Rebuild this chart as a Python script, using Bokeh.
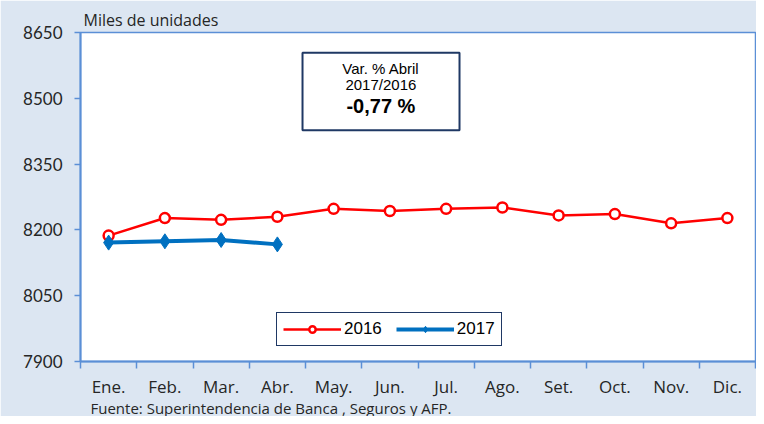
from bokeh.plotting import figure
from bokeh.models import (ColumnDataSource, FixedTicker, Range1d, Legend, LegendItem,
                          Label, BoxAnnotation, Title)
from bokeh.embed import file_html
from bokeh.resources import INLINE

months = ["Ene.", "Feb.", "Mar.", "Abr.", "May.", "Jun.", "Jul.", "Ago.", "Set.", "Oct.", "Nov.", "Dic."]
v2016 = [8187, 8227, 8223, 8230, 8248, 8243, 8248, 8251, 8233, 8236, 8215, 8227]
v2017 = [8171, 8174, 8177, 8167]
y_ticks = [7900, 8050, 8200, 8350, 8500, 8650]

idx16 = list(range(1, len(v2016) + 1))
idx17 = list(range(1, len(v2017) + 1))
s16 = ColumnDataSource(dict(x=idx16, y=v2016))
s17 = ColumnDataSource(dict(x=idx17, y=v2017))

BG = "#DCE6F2"
AX = "#5B8FD6"
FONT = "Lato"
FONT2 = "Open Sans"
TXT = "#262626"

p = figure(width=756, height=416, output_backend="svg", toolbar_location=None,
           x_range=Range1d(0.5, len(months) + 0.5), y_range=Range1d(y_ticks[0], y_ticks[-1]),
           min_border_left=80, min_border_right=1, min_border_top=32, min_border_bottom=55)
p.background_fill_color = "white"
p.border_fill_color = BG
p.outline_line_color = AX
p.outline_line_width = 1.5
p.xgrid.visible = False
p.ygrid.visible = False

# unit label above the frame
p.add_layout(Title(text="Miles de unidades", align="left", offset=3, standoff=4,
                   text_font=FONT2, text_font_size="16px", text_font_style="normal",
                   text_color=TXT), "above")

# y axis
p.yaxis.ticker = FixedTicker(ticks=y_ticks)
p.yaxis.axis_line_color = AX
p.yaxis.axis_line_width = 2
p.yaxis.major_tick_line_color = AX
p.yaxis.major_tick_line_width = 1.5
p.yaxis.major_tick_out = 6
p.yaxis.major_tick_in = 0
p.yaxis.minor_tick_line_color = None
p.yaxis.major_label_text_font = FONT
p.yaxis.major_label_text_font_size = "17px"
p.yaxis.major_label_text_color = TXT
p.yaxis.major_label_standoff = 12

# x axis: labels at centres, ticks at boundaries
p.xaxis.ticker = FixedTicker(ticks=idx16, minor_ticks=[i + 0.5 for i in range(0, len(months) + 1)])
p.xaxis.major_label_overrides = {i + 1: m for i, m in enumerate(months)}
p.xaxis.axis_line_color = AX
p.xaxis.axis_line_width = 2
p.xaxis.major_tick_line_color = None
p.xaxis.major_tick_out = 0
p.xaxis.major_tick_in = 0
p.xaxis.minor_tick_line_color = AX
p.xaxis.minor_tick_line_width = 1.5
p.xaxis.minor_tick_out = 7
p.xaxis.minor_tick_in = 0
p.xaxis.major_label_text_font = FONT2
p.xaxis.major_label_text_font_size = "17px"
p.xaxis.major_label_text_color = TXT
p.xaxis.major_label_standoff = 6

# source note below the axis
p.add_layout(Title(text="Fuente: Superintendencia de Banca , Seguros y AFP.", align="left",
                   offset=10, standoff=-6, vertical_align="top", text_font=FONT2,
                   text_font_size="15px", text_font_style="normal", text_color=TXT), "below")

# series
l16 = p.line("x", "y", source=s16, line_color="#FF0000", line_width=2.5)
m16 = p.scatter("x", "y", source=s16, marker="circle", size=10, fill_color="white",
                line_color="#FF0000", line_width=2.5)
l17 = p.line("x", "y", source=s17, line_color="#0070C0", line_width=4)
m17 = p.scatter("x", "y", source=s17, marker="diamond", size=15, fill_color="#0070C0",
                line_color="#0070C0")

legend = Legend(items=[LegendItem(label="2016", renderers=[l16, m16]),
                       LegendItem(label="2017", renderers=[l17, m17])],
                orientation="horizontal", location=(196, 15),
                glyph_width=58, glyph_height=16, label_text_font="Liberation Sans",
                label_text_font_size="17px", label_text_color="black",
                label_standoff=3, spacing=14, padding=6, margin=0,
                border_line_color="#1F3864", border_line_width=1.5, border_line_alpha=1,
                background_fill_color="white", background_fill_alpha=1)
p.add_layout(legend, "center")

# variation box
p.add_layout(BoxAnnotation(left=4.447, right=7.238, bottom=8427, top=8604,
                           fill_color="white", fill_alpha=1,
                           line_color="#1F3864", line_alpha=1, line_width=2))
cx = 5.84
p.add_layout(Label(x=cx, y=8567, text="Var. % Abril", text_align="center", text_baseline="middle",
                   text_font="Liberation Sans", text_font_size="15px", text_color="black"))
p.segment(x0=[cx - 0.75], x1=[cx + 0.75], y0=[8550], y1=[8550], line_color="black", line_width=1.2)
p.add_layout(Label(x=cx, y=8531, text="2017/2016", text_align="center", text_baseline="middle",
                   text_font="Liberation Sans", text_font_size="15px", text_color="black"))
p.add_layout(Label(x=cx, y=8483, text="-0,77 %", text_align="center", text_baseline="middle",
                   text_font="Liberation Sans", text_font_size="20px", text_font_style="bold",
                   text_color="black"))

open("out.html", "w").write(file_html(p, INLINE))
